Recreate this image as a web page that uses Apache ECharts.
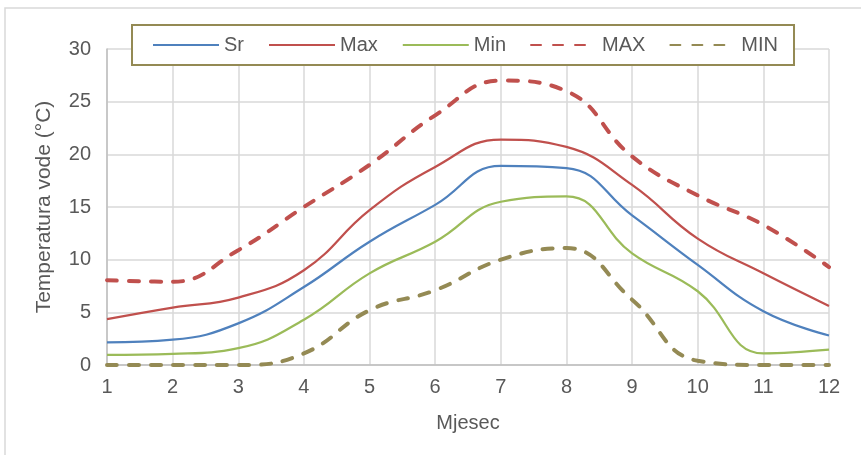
<!DOCTYPE html>
<html>
<head>
<meta charset="utf-8">
<script src="https://cdn.jsdelivr.net/npm/echarts@6/dist/echarts.min.js"></script>
<style>
html,body{margin:0;padding:0;background:#fff;}
#chart{width:861px;height:455px;}
</style>
</head>
<body>
<div id="chart"></div>
<script>
const months = ['1','2','3','4','5','6','7','8','9','10','11','12'];
const yTicks = [0, 5, 10, 15, 20, 25, 30];
const sr  = [2.15, 2.4, 3.95, 7.4, 11.7, 15.2, 18.9, 18.7, 14.2, 9.5, 5.1, 2.8];
const mx  = [4.35, 5.45, 6.4, 9.0, 14.7, 18.8, 21.4, 20.7, 17.1, 12.0, 8.7, 5.6];
const mn  = [0.95, 1.05, 1.6, 4.3, 8.7, 11.7, 15.5, 16.0, 10.6, 7.0, 1.1, 1.45];
const MAXv = [8.05, 7.9, 10.9, 15.0, 19.0, 23.7, 27.0, 26.0, 19.8, 16.1, 13.3, 9.3];
const MINv = [0, 0, 0, 1.1, 5.2, 7.1, 10.0, 11.1, 6.2, 0.4, 0, 0];

const FONT = 'Liberation Sans, Arial, sans-serif';
const TXT = '#595959';
const chart = echarts.init(document.getElementById('chart'), null, {renderer:'canvas'});

function line(name, data, color, width, dashed){
  return {
    name, type:'line', data, smooth:0.45, symbol:'none', legendIcon:'none',
    lineStyle:{color, width, type: dashed ? [10, 12] : 'solid', cap: dashed ? 'round' : 'butt'},
    itemStyle:{color}
  };
}

chart.setOption({
  animation:false,
  graphic:[{type:'rect', shape:{x:5, y:8, width:900, height:500}, style:{fill:'none', stroke:'#d9d9d9', lineWidth:1.5}, silent:true, z:-1}],
  grid:{left:107, right:32, top:49, bottom:90, containLabel:false},
  legend:{
    left:132, top:25, padding:[10, 16, 10, 20], itemGap:24, itemWidth:66, itemHeight:14,
    borderColor:'#948A54', borderWidth:2, backgroundColor:'#fff',
    itemStyle:{opacity:0},
    textStyle:{fontFamily:FONT, fontSize:20, color:TXT},
    data:['Sr','Max','Min','MAX','MIN']
  },
  xAxis:{
    type:'category', data:months, boundaryGap:false,
    name:'Mjesec', nameLocation:'middle', nameGap:48,
    nameTextStyle:{fontFamily:FONT, fontSize:20, color:TXT},
    axisLine:{lineStyle:{color:'#bfbfbf', width:1.5}},
    axisTick:{show:false},
    axisLabel:{fontFamily:FONT, fontSize:20, color:TXT, margin:12},
    splitLine:{show:true, lineStyle:{color:'#d9d9d9', width:1.5}}
  },
  yAxis:{
    type:'value', min:yTicks[0], max:yTicks[yTicks.length-1], interval:5,
    name:'Temperatura vode (°C)', nameLocation:'middle', nameGap:52,
    nameTextStyle:{fontFamily:FONT, fontSize:21, color:TXT},
    axisLine:{show:true, lineStyle:{color:'#bfbfbf', width:1.5}},
    axisTick:{show:false},
    axisLabel:{fontFamily:FONT, fontSize:20, color:TXT, margin:16},
    splitLine:{show:true, lineStyle:{color:'#d9d9d9', width:1.5}}
  },
  series:[
    line('Sr', sr, '#4F81BD', 2.25, false),
    line('Max', mx, '#C0504D', 2.25, false),
    line('Min', mn, '#9BBB59', 2.25, false),
    line('MAX', MAXv, '#C0504D', 4, true),
    line('MIN', MINv, '#948A54', 4, true)
  ]
});
</script>
</body>
</html>
